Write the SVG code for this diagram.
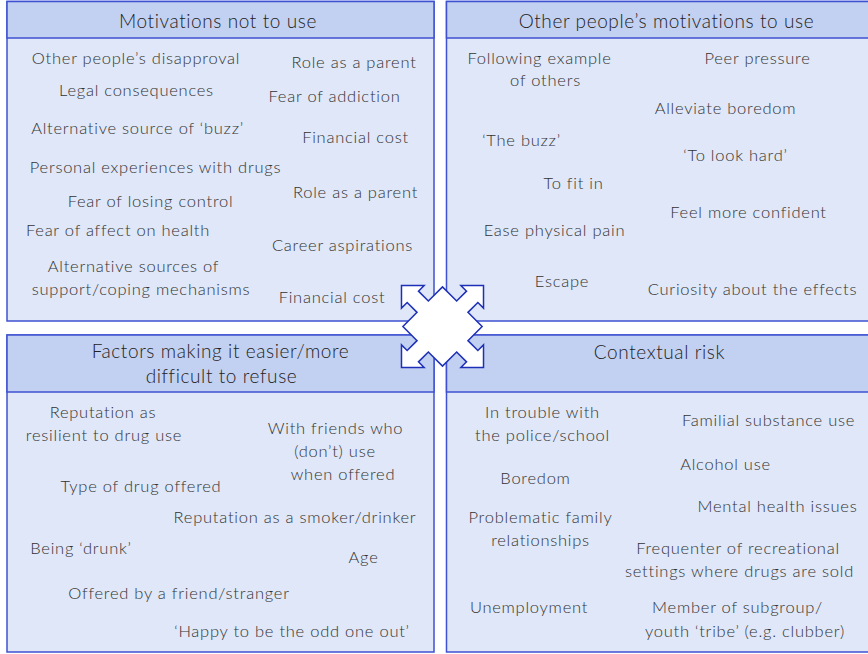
<svg xmlns="http://www.w3.org/2000/svg" width="868" height="654" viewBox="0 0 868 654">
<style>
.body{fill:#dfe7f8;stroke:#3f51d1;stroke-width:1.5}
.hdr{fill:#c2d1f1;stroke:#3f51d1;stroke-width:1.5}
.h{font-family:Lato,"Open Sans","Liberation Sans",sans-serif;font-weight:300;font-size:19px;letter-spacing:0.6px;fill:#222;text-anchor:middle}
.t{font-family:Lato,"Open Sans","Liberation Sans",sans-serif;font-weight:300;font-size:16.5px;letter-spacing:0.75px;fill:#333;text-anchor:middle}
.arrow{fill:#fff;stroke:#1e30b8;stroke-width:1.5;stroke-linejoin:miter}
</style>
<rect width="868" height="654" fill="#fff"/>

<g id="motivations-not-to-use">
<rect class="body" x="7" y="1.5" width="427" height="319.5"/>
<rect class="hdr" x="7" y="1.5" width="427" height="36.5"/>
<text class="h" x="218" y="27.5">Motivations not to use</text>
<text class="t" x="136" y="64">Other people’s disapproval</text>
<text class="t" x="354" y="68">Role as a parent</text>
<text class="t" x="136.5" y="96">Legal consequences</text>
<text class="t" x="334.5" y="102">Fear of addiction</text>
<text class="t" x="137.5" y="134">Alternative source of ‘buzz’</text>
<text class="t" x="355.5" y="143">Financial cost</text>
<text class="t" x="155.5" y="173">Personal experiences with drugs</text>
<text class="t" x="150.5" y="207">Fear of losing control</text>
<text class="t" x="355.5" y="198">Role as a parent</text>
<text class="t" x="118" y="236">Fear of affect on health</text>
<text class="t" x="342.5" y="251">Career aspirations</text>
<text class="t" x="133.5" y="272">Alternative sources of</text>
<text class="t" x="141" y="295">support/coping mechanisms</text>
<text class="t" x="332" y="303">Financial cost</text>
</g>

<g id="others-motivations-to-use">
<rect class="body" x="446.5" y="1.5" width="430" height="319.5"/>
<rect class="hdr" x="446.5" y="1.5" width="430" height="36.5"/>
<text class="h" x="666.5" y="27.5">Other people’s motivations to use</text>
<text class="t" x="539.5" y="64">Following example</text>
<text class="t" x="545.5" y="86">of others</text>
<text class="t" x="757.5" y="64">Peer pressure</text>
<text class="t" x="725.5" y="114">Alleviate boredom</text>
<text class="t" x="521.5" y="146">‘The buzz’</text>
<text class="t" x="735.5" y="161">‘To look hard’</text>
<text class="t" x="573.5" y="189">To fit in</text>
<text class="t" x="748.5" y="218">Feel more confident</text>
<text class="t" x="554.5" y="236">Ease physical pain</text>
<text class="t" x="562" y="287">Escape</text>
<text class="t" x="752.5" y="295">Curiosity about the effects</text>
</g>

<g id="factors-refuse">
<rect class="body" x="7" y="335" width="427" height="317"/>
<rect class="hdr" x="7" y="335" width="427" height="57"/>
<text class="h" x="220.5" y="358">Factors making it easier/more</text>
<text class="h" x="221.5" y="383">difficult to refuse</text>
<text class="t" x="103" y="418">Reputation as</text>
<text class="t" x="104" y="441">resilient to drug use</text>
<text class="t" x="335.5" y="434">With friends who</text>
<text class="t" x="335" y="457">(don’t) use</text>
<text class="t" x="343" y="480">when offered</text>
<text class="t" x="141" y="492">Type of drug offered</text>
<text class="t" x="295" y="523">Reputation as a smoker/drinker</text>
<text class="t" x="81" y="554">Being ‘drunk’</text>
<text class="t" x="363.5" y="563">Age</text>
<text class="t" x="179" y="599">Offered by a friend/stranger</text>
<text class="t" x="292" y="637">‘Happy to be the odd one out’</text>
</g>

<g id="contextual-risk">
<rect class="body" x="446.5" y="335" width="430" height="317"/>
<rect class="hdr" x="446.5" y="335" width="430" height="57"/>
<text class="h" x="659.5" y="358.5">Contextual risk</text>
<text class="t" x="542.5" y="418">In trouble with</text>
<text class="t" x="542.5" y="441">the police/school</text>
<text class="t" x="768.5" y="426">Familial substance use</text>
<text class="t" x="725.5" y="470">Alcohol use</text>
<text class="t" x="535.5" y="484">Boredom</text>
<text class="t" x="777.5" y="512">Mental health issues</text>
<text class="t" x="540.5" y="523">Problematic family</text>
<text class="t" x="540.5" y="546">relationships</text>
<text class="t" x="738" y="554">Frequenter of recreational</text>
<text class="t" x="739.5" y="577">settings where drugs are sold</text>
<text class="t" x="529" y="613">Unemployment</text>
<text class="t" x="737.5" y="613">Member of subgroup/</text>
<text class="t" x="745" y="637">youth ‘tribe’ (e.g. clubber)</text>
</g>

<g id="connectors">
<path class="arrow" transform="translate(442.5 326.5) rotate(45)" d="M28,-8 L42,-8 L42,-16 L58,0 L42,16 L42,8 L28,8 L28,28 L8,28 L8,42 L16,42 L0,58 L-16,42 L-8,42 L-8,28 L-28,28 L-28,8 L-42,8 L-42,16 L-58,0 L-42,-16 L-42,-8 L-28,-8 L-28,-28 L-8,-28 L-8,-42 L-16,-42 L0,-58 L16,-42 L8,-42 L8,-28 L28,-28 Z"/>
</g>
</svg>
